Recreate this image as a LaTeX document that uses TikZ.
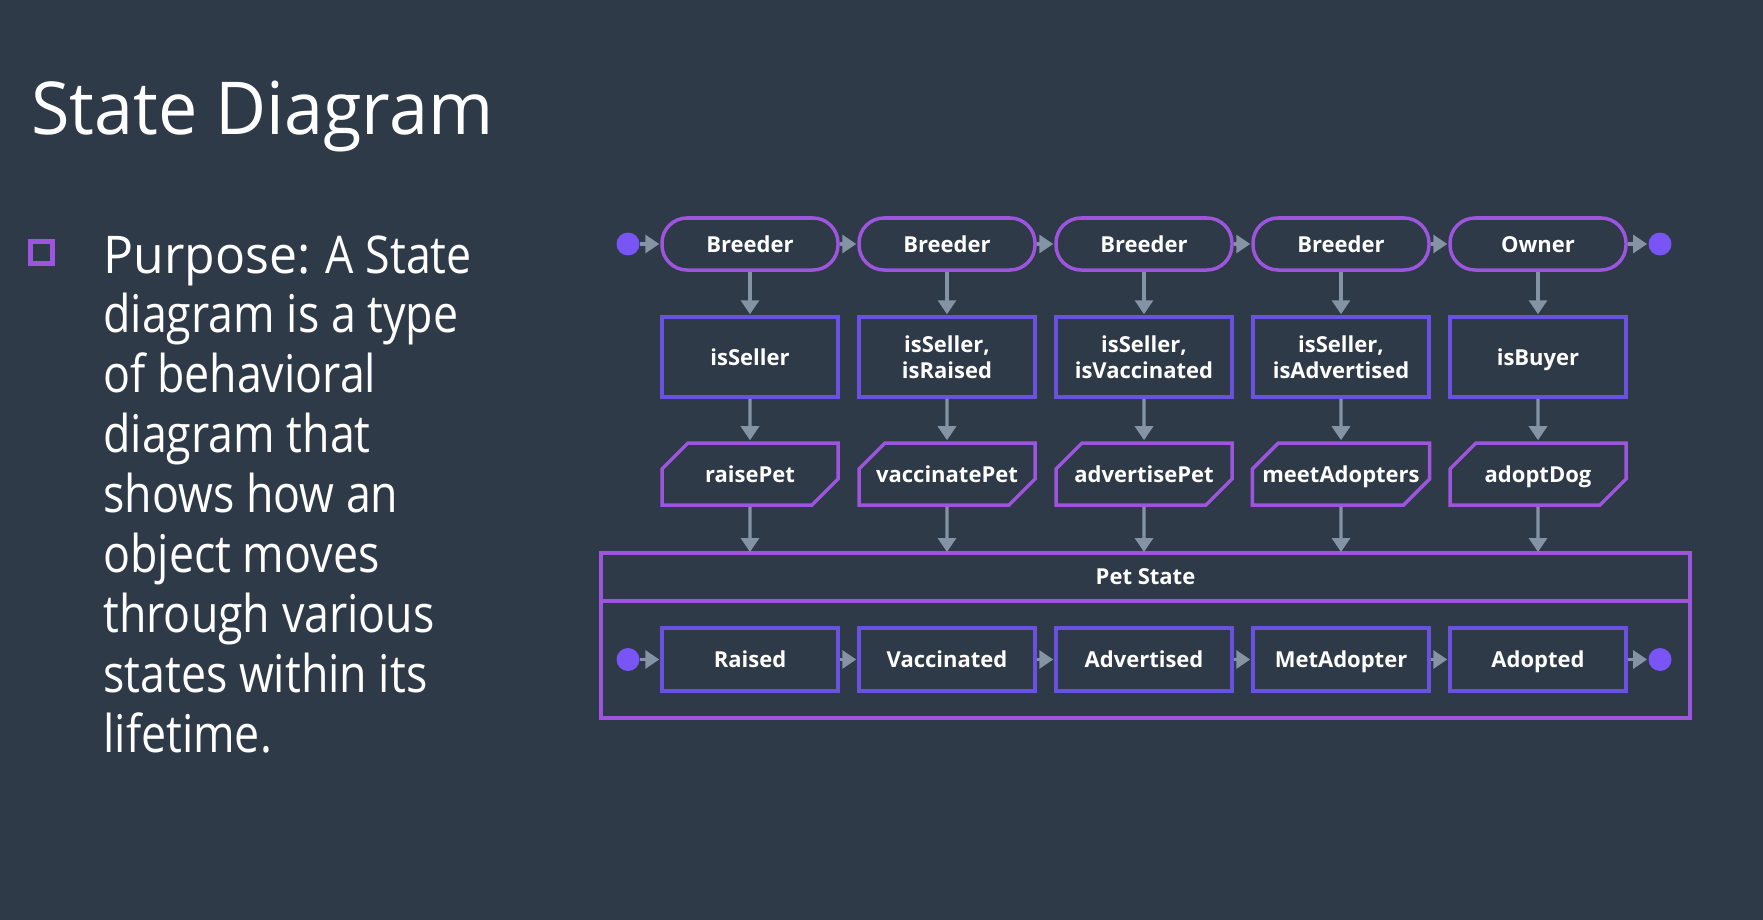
\documentclass[tikz,border=0pt]{standalone}
\usepackage{fontspec}
\setmainfont{Open Sans}
\newfontfamily\lightfont{Open Sans}[FakeStretch=0.86]
\newfontfamily\titlefont{Open Sans}[FakeStretch=0.96]
\usetikzlibrary{arrows.meta,positioning,shapes.misc}

\definecolor{slide}{HTML}{2E3A47}
\definecolor{rolepurple}{HTML}{9D55DD}
\definecolor{guardblue}{HTML}{6A52E0}
\definecolor{dotviolet}{HTML}{7A55F5}
\definecolor{flowgray}{HTML}{8494A4}

\begin{document}
\begin{tikzpicture}[x=0.5pt,y=-0.5pt,node distance=98.5pt]
\tikzstyle{every node}=[font=\bfseries\fontsize{11pt}{13pt}\selectfont,text=white]
\tikzstyle{role}=[draw=rolepurple,line width=1.75pt,rounded corners=12.5pt,minimum width=88pt,minimum height=26pt,
  inner sep=0pt,text height=9pt,text depth=1pt]
\tikzstyle{guard}=[draw=guardblue,line width=1.75pt,minimum width=88pt,minimum height=40pt,inner sep=0pt,align=center]
\tikzstyle{action}=[chamfered rectangle,chamfered rectangle corners={north west,south east},
  chamfered rectangle xsep=8pt,chamfered rectangle ysep=8pt,draw=rolepurple,line width=1.75pt,
  minimum width=88pt,minimum height=31pt,inner sep=0pt,text height=9pt,text depth=1pt]
\tikzstyle{petstate}=[draw=guardblue,line width=1.75pt,minimum width=88pt,minimum height=31.5pt,inner sep=0pt,
  text height=9pt,text depth=1pt]
\tikzstyle{dot}=[circle,fill=dotviolet,minimum size=11.5pt,inner sep=0pt]
\tikzstyle{flow}=[draw=flowgray,line width=1.6pt,-{Triangle[length=7pt,width=9pt,fill=flowgray]},shorten >=0.5pt]

\fill[slide] (0,0) rectangle (1763,920);

% title and text
\node[anchor=base west,inner sep=0pt,font=\titlefont\fontsize{36.5pt}{40pt}\selectfont] (title) at (31,135) {State Diagram};
\node[draw=rolepurple,line width=2.5pt,minimum size=11pt,inner sep=0pt] (bullet) at (41.5,252.5) {};
\node[anchor=north west,inner sep=0pt,align=left,font=\lightfont\fontsize{26pt}{29.95pt}\selectfont] (purpose) at (103,235)
  {{\titlefont Purpose:} A State\\diagram is a type\\of behavioral\\diagram that\\shows how an\\object moves\\through various\\states within its\\lifetime.};

% owner row
\node[dot] (i0) at (628,244) {};
\node[role] (b1) at (750,244) {Breeder};
\node[role,right of=b1] (b2) {Breeder};
\node[role,right of=b2] (b3) {Breeder};
\node[role,right of=b3] (b4) {Breeder};
\node[role,right of=b4] (b5) {Owner};
\node[dot,right of=b5,node distance=61pt] (f0) {};

\node[guard,below of=b1,node distance=56.5pt,text height=9pt,text depth=1pt] (g1) {isSeller};
\node[guard,right of=g1] (g2) {isSeller,\\isRaised};
\node[guard,right of=g2] (g3) {isSeller,\\isVaccinated};
\node[guard,right of=g3] (g4) {isSeller,\\isAdvertised};
\node[guard,right of=g4,text height=9pt,text depth=1pt] (g5) {isBuyer};

\node[action,below of=g1,node distance=58.5pt] (a1) {raisePet};
\node[action,right of=a1] (a2) {vaccinatePet};
\node[action,right of=a2] (a3) {advertisePet};
\node[action,right of=a3] (a4) {meetAdopters};
\node[action,right of=a4] (a5) {adoptDog};

% pet state
\node[draw=rolepurple,line width=1.75pt,outer sep=0pt,minimum width=544.5pt,minimum height=82.5pt] (pet) at (1145.5,635.5) {};
\coordinate (hdr) at (0,601);
\draw[rolepurple,line width=1.75pt] (pet.west |- hdr) -- (pet.east |- hdr);
\node (pstate) at (1145.5,577) {Pet State};

\node[petstate,below of=a1,node distance=92.75pt] (s1) {Raised};
\node[petstate,right of=s1] (s2) {Vaccinated};
\node[petstate,right of=s2] (s3) {Advertised};
\node[petstate,right of=s3] (s4) {MetAdopter};
\node[petstate,right of=s4] (s5) {Adopted};
\node[dot,left of=s1,node distance=61pt] (ip) {};
\node[dot,right of=s5,node distance=61pt] (fp) {};

\path[flow] (i0) edge (b1)
  (b1) edge (b2)
  (b2) edge (b3)
  (b3) edge (b4)
  (b4) edge (b5)
  (b5) edge (f0)

  (b1) edge (g1) (g1) edge (a1) (a1) edge (a1 |- pet.north)
  (b2) edge (g2) (g2) edge (a2) (a2) edge (a2 |- pet.north)
  (b3) edge (g3) (g3) edge (a3) (a3) edge (a3 |- pet.north)
  (b4) edge (g4) (g4) edge (a4) (a4) edge (a4 |- pet.north)
  (b5) edge (g5) (g5) edge (a5) (a5) edge (a5 |- pet.north)

  (ip) edge (s1)
  (s1) edge (s2)
  (s2) edge (s3)
  (s3) edge (s4)
  (s4) edge (s5)
  (s5) edge (fp);
\end{tikzpicture}
\end{document}
